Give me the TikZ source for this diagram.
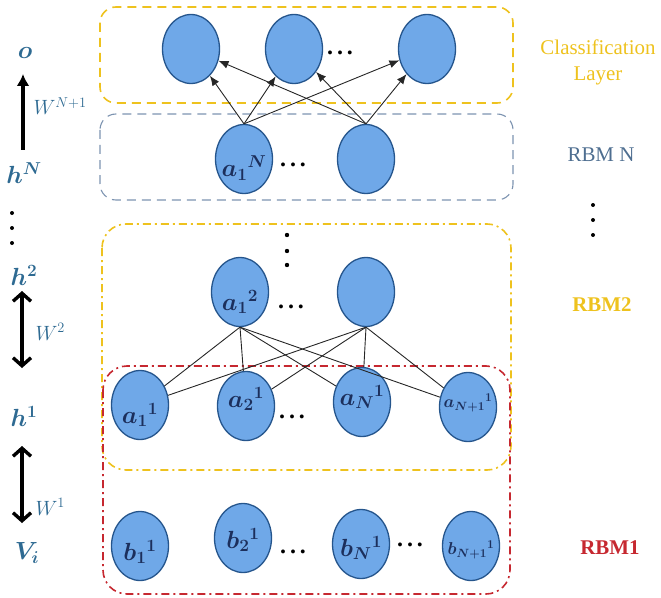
\documentclass[tikz,border=0pt]{standalone}
\usepackage{fontspec}
\setmainfont{Liberation Serif}
\usepackage{xcolor}
\usepackage{tikz}
\usetikzlibrary{arrows.meta, positioning, shapes.geometric}

\definecolor{nodeblue}{HTML}{6FA8E8}
\definecolor{nodeedge}{HTML}{25558C}
\definecolor{inkblue}{HTML}{1C2F5C}
\definecolor{labblue}{HTML}{2E6A92}
\definecolor{gold}{HTML}{EEC21E}
\definecolor{slate}{HTML}{7C93B0}
\definecolor{slatetext}{HTML}{4E6E90}
\definecolor{rbmred}{HTML}{C62830}

\begin{document}
\begin{tikzpicture}[x=1bp, y=-1bp, % pixel grid, y pointing down
          neuron/.style={ellipse, draw=nodeedge, line width=1.3bp, fill=nodeblue, minimum width=57bp, minimum height=69bp, inner sep=0pt},
          nlabel/.style={font=\fontsize{23}{25}\selectfont\boldmath, text=inkblue},
          smalllabel/.style={nlabel, font=\fontsize{18}{20}\selectfont\boldmath},
          sidelabel/.style={font=\fontsize{26}{28}\selectfont\boldmath, text=labblue},
          weight/.style={font=\fontsize{21}{23}\selectfont, text=labblue, anchor=west},
          rowdots/.style={font=\fontsize{24}{26}\selectfont\bfseries},
          link/.style={draw=black!85, line width=0.9bp},
          uplink/.style={link, -{Latex[length=10bp, width=8bp]}},
          warrow/.style={line width=3.6bp, -{Latex[length=12bp, width=13bp]}},
          wboth/.style={line width=3.4bp, {Straight Barb[length=8bp, width=18bp]}-{Straight Barb[length=8bp, width=18bp]}},
          dashbox/.style={rounded corners=16bp, line width=1.6bp, dash pattern=on 9bp off 6bp},
          dotbox/.style={rounded corners=24bp, line width=1.6bp, dash pattern=on 8bp off 4bp on 2bp off 4bp},
          tag/.style={font=\fontsize{21}{23}\selectfont, text=gold}
        ]
        \useasboundingbox (0,0) rectangle (661,598);

        % Layer boxes
        \draw[dashbox, draw=gold] (100,7) rectangle (513,103);
        \draw[dashbox, draw=slate, line width=1.1bp] (100,114) rectangle (513,200);
        \draw[dotbox, draw=gold] (102,224) rectangle (511,470);
        \draw[dotbox, draw=rbmred] (103,366) rectangle (510,594);

        % Classification layer
        \node[neuron] (cl1) at (191,49) {};
        \node[neuron] (cl2) at (294,49) {};
        \node[neuron] (cl3) at (427,49) {};
        \node[rowdots] (clx) at (340,53) {.\,.\,.};

        % RBM N
        \node[neuron, label={[nlabel, yshift=-9bp]center:$a_1{}^N$}] (rn1) at (244,159) {};
        \node[neuron] (rn2) at (366,159) {};
        \node[rowdots] (rnx) at (293,165) {.\,.\,.};

        % RBM 2
        \node[neuron, label={[nlabel, yshift=-10bp]center:$a_1{}^2$}] (r21) at (240,292) {};
        \node[neuron] (r22) at (366,292) {};
        \node[rowdots] (r2x) at (291,307) {.\,.\,.};
        \foreach \y in {235,251,265}
          \fill (287,\y) circle (2.2bp);

        % hidden layer h^1
        \node[neuron, label={[nlabel, yshift=-10bp]center:$a_1{}^1$}] (h1) at (140,405) {};
        \node[neuron, label={[nlabel, yshift=7bp]center:$a_2{}^1$}] (h2) at (246,406) {};
        \node[neuron, label={[nlabel, yshift=5bp]center:$a_N{}^1$}] (h3) at (362,402) {};
        \node[neuron, label={[smalllabel, yshift=4bp]center:$a_{N+1}{}^1$}] (h4) at (468,407) {};
        \node[rowdots] (h1x) at (292,417) {.\,.\,.};

        % visible layer
        \node[neuron, label={[nlabel, yshift=-6bp]center:$b_1{}^1$}] (v1) at (140,546) {};
        \node[neuron, label={[nlabel, yshift=-2bp]center:$b_2{}^1$}] (v2) at (243,538) {};
        \node[neuron, label={[nlabel, yshift=-4bp]center:$b_N{}^1$}] (v3) at (361,544) {};
        \node[neuron, label={[smalllabel, yshift=-4bp]center:$b_{N+1}{}^1$}] (v4) at (471,546) {};
        \node[rowdots] (v1x) at (293,552) {.\,.\,.};
        \node[rowdots] (v2x) at (410,545) {.\,.\,.};

        % connections
        \foreach \a in {rn1, rn2}
          \foreach \b in {cl1, cl2, cl3}
            \draw[uplink] (\a.north) -- (\b);
        \foreach \a in {r21, r22}
          \foreach \b in {h1, h2, h3, h4}
            \draw[link] (\a.south) -- (\b);

        % left column
        \node[sidelabel] (lo) at (25,53) {$o$};
        \node[sidelabel] (lhN) at (24,173) {$h^N$};
        \foreach \y in {213,228,243}
          \fill (12,\y) circle (2bp);
        \node[sidelabel] (lh2) at (24,275) {$h^2$};
        \node[sidelabel] (lh1) at (24,416) {$h^1$};
        \node[sidelabel] (lv) at (27,553) {$V_i$};
        \node[weight] (wN) at (30,106) {$W^{N+1}$};
        \node[weight] (w2) at (32,332) {$W^2$};
        \node[weight] (w1) at (32,507) {$W^1$};

        \coordinate (wNa) at (23,150);
        \coordinate (wNb) at (23,74);
        \coordinate (w2a) at (22,291);
        \coordinate (w2b) at (22,368);
        \coordinate (w1a) at (22,446);
        \coordinate (w1b) at (22,523);
        \draw[warrow] (wNa) -- (wNb);
        \draw[wboth] (w2a) -- (w2b);
        \draw[wboth] (w1a) -- (w1b);

        % right column
        \node[tag, align=center] (tcl) at (598,62) {Classification\\[3bp]Layer};
        \node[tag, text=slatetext] (trn) at (601,155) {RBM N};
        \foreach \y in {205,220,235}
          \fill (593,\y) circle (2bp);
        \node[tag, font=\fontsize{21}{23}\selectfont\bfseries] (tr2) at (602,305) {RBM2};
        \node[tag, text=rbmred, font=\fontsize{21}{23}\selectfont\bfseries] (tr1) at (610,548) {RBM1};

        \end{tikzpicture}
\end{document}
